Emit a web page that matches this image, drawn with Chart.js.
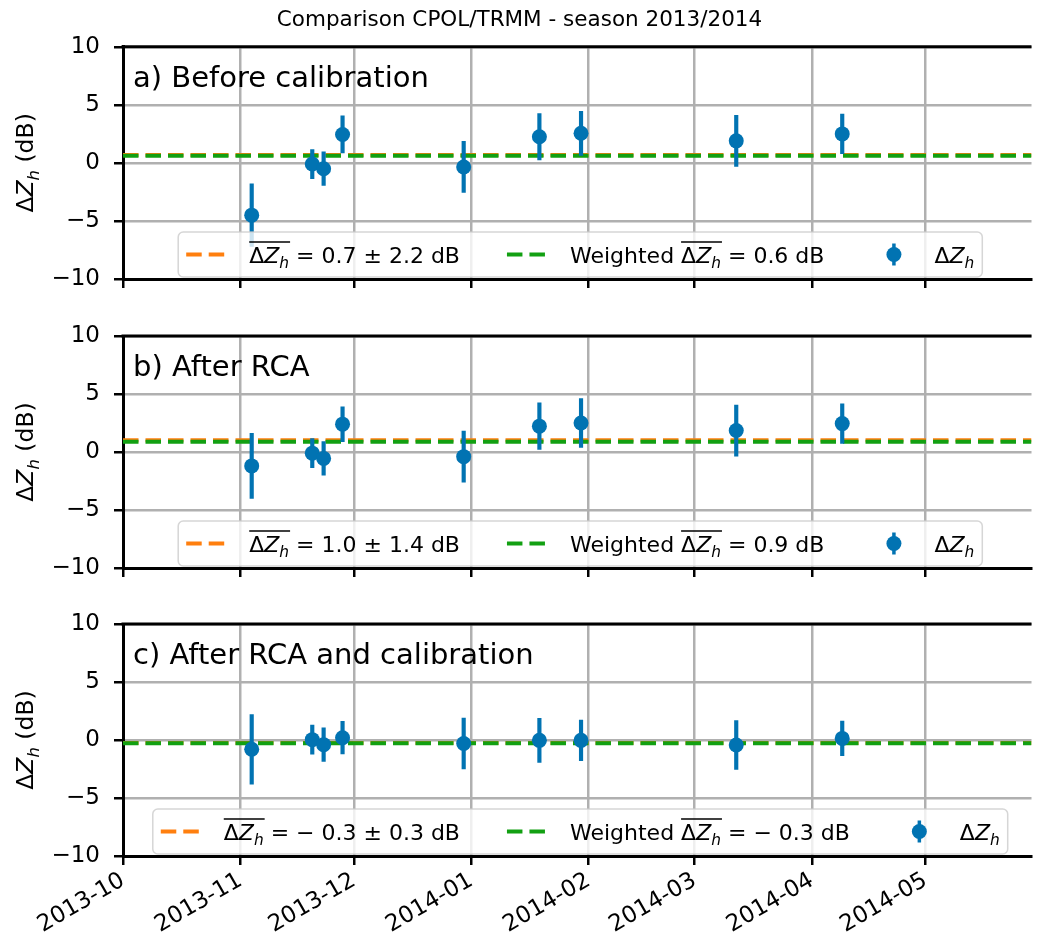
<!DOCTYPE html>
<html>
<head>
<meta charset="utf-8">
<script src="https://cdn.jsdelivr.net/npm/chart.js@4/dist/chart.umd.min.js"></script>
<style>
  body { margin: 0; background: #fff; width: 1039px; height: 943px; position: relative; overflow: hidden; }
  canvas { position: absolute; left: 0; }
</style>
</head>
<body>
<canvas id="panelA" width="1039" height="307" style="top:0px"></canvas>
<canvas id="panelB" width="1039" height="289" style="top:307px"></canvas>
<canvas id="panelC" width="1039" height="347" style="top:596px"></canvas>
<script>
// overpass dates
const dates = ['2013-11-04', '2013-11-20', '2013-11-23', '2013-11-28', '2013-12-30',
               '2014-01-19', '2014-01-30', '2014-03-12', '2014-04-09']

// differences and error bars for each panel (dB)
const dzBefore = [-4.5, -0.1, -0.5, 2.45, -0.35, 2.25, 2.55, 1.9, 2.5]
const errBefore = [2.7, 1.25, 1.45, 1.6, 2.2, 2.0, 1.9, 2.2, 1.7]
const dzRca = [-1.2, -0.1, -0.55, 2.4, -0.4, 2.23, 2.5, 1.85, 2.45]
const errRca = [2.8, 1.25, 1.45, 1.5, 2.2, 2.0, 2.1, 2.2, 1.7]
const dzCal = [-0.8, 0.03, -0.4, 0.2, -0.3, -0.03, -0.03, -0.43, 0.14]
const errCal = [3.0, 1.25, 1.45, 1.4, 2.2, 1.9, 1.75, 2.1, 1.5]

const meanDz = [0.69, 1.02, -0.26]
const stdDz = [2.2, 1.4, 0.3]
const weightedDz = [0.62, 0.88, -0.27]

const panelLabels = ['a) Before calibration', 'b) After RCA', 'c) After RCA and calibration']
const monthTicks = ['2013-10-01', '2013-11-01', '2013-12-01', '2014-01-01',
                    '2014-02-01', '2014-03-01', '2014-04-01', '2014-05-01']
const monthLabels = ['2013-10', '2013-11', '2013-12', '2014-01', '2014-02', '2014-03', '2014-04', '2014-05']
const yTicks = [-10, -5, 0, 5, 10]
const xStart = '2013-10-01'
const xEnd = '2014-05-29'

const BLUE = '#0173b2'
const ORANGE = '#ff7f0e'
const GREEN = '#12a012'
const FONT = '"DejaVu Sans"'

function day(s) {
  const [y, m, d] = s.split('-').map(Number)
  const [y0, m0, d0] = xStart.split('-').map(Number)
  return (Date.UTC(y, m - 1, d) - Date.UTC(y0, m0 - 1, d0)) / 86400000
}
const monthDays = monthTicks.map(day)

function fmt(v) {
  return v < 0 ? '\u2212 ' + Math.abs(v).toFixed(1) : v.toFixed(1)
}

// draw text made of runs (italic / subscript / overline pieces)
function runs(ctx, parts, x, y, size, draw) {
  let cx = x, olStart = null, olEnd = null
  for (const p of parts) {
    const fs = p.sub ? size * 0.7 : size
    ctx.font = (p.it ? 'italic ' : '') + fs + 'px ' + FONT
    const w = ctx.measureText(p.t).width
    if (draw) ctx.fillText(p.t, cx, y + (p.sub ? size * 0.24 : 0))
    if (p.ol) { if (olStart === null) olStart = cx; olEnd = cx + w }
    cx += w
  }
  if (draw && olStart !== null) {
    ctx.save()
    ctx.strokeStyle = '#000'
    ctx.lineWidth = 1.4
    ctx.beginPath()
    ctx.moveTo(olStart, y - size * 0.93)
    ctx.lineTo(olEnd + 1, y - size * 0.93)
    ctx.stroke()
    ctx.restore()
  }
  return cx - x
}

const dzRuns = (ol) => [
  { t: '\u0394', ol: ol },
  { t: 'Z', it: true, ol: ol },
  { t: 'h', it: true, sub: true, ol: ol }
]

const decor = {
  id: 'decor',
  afterDraw(chart, args, o) {
    const { ctx, chartArea: a } = chart
    const i = o.idx
    ctx.save()
    // top spine
    ctx.strokeStyle = '#000'
    ctx.lineWidth = 3
    ctx.beginPath()
    ctx.moveTo(a.left - 1.5, a.top)
    ctx.lineTo(a.right, a.top)
    ctx.stroke()

    // panel label
    ctx.fillStyle = '#000'
    ctx.textBaseline = 'alphabetic'
    ctx.font = '29px ' + FONT
    ctx.fillText(panelLabels[i], a.left + 10, a.top + 40)

    // y axis label
    ctx.save()
    const yl = dzRuns(false).concat([{ t: ' (dB)' }])
    const w = runs(ctx, yl, 0, 0, 23.5, false)
    ctx.translate(25, (a.top + a.bottom) / 2)
    ctx.rotate(-Math.PI / 2)
    runs(ctx, yl, -w / 2, 8, 23.5, true)
    ctx.restore()

    // legend
    const fs = 22, pad = 8, hl = 45, htp = 18, cs = 47, bh = 45
    const entries = [
      { kind: 'line', color: ORANGE,
        parts: dzRuns(true).concat([{ t: ' = ' + fmt(meanDz[i]) + ' \u00b1 ' + stdDz[i].toFixed(1) + ' dB' }]) },
      { kind: 'line', color: GREEN,
        parts: [{ t: 'Weighted ' }].concat(dzRuns(true), [{ t: ' = ' + fmt(weightedDz[i]) + ' dB' }]) },
      { kind: 'err', color: BLUE, parts: dzRuns(false) }
    ]
    const widths = entries.map(e => hl + htp + runs(ctx, e.parts, 0, 0, fs, false))
    const total = pad * 2 + widths.reduce((s, v) => s + v, 0) + cs * (entries.length - 1)
    const bx = (a.left + a.right) / 2 + 3 - total / 2
    const by = a.bottom - 2 - bh
    ctx.beginPath()
    ctx.roundRect(bx, by, total, bh, 5)
    ctx.fillStyle = 'rgba(255,255,255,0.8)'
    ctx.fill()
    ctx.strokeStyle = 'rgba(204,204,204,0.8)'
    ctx.lineWidth = 1.5
    ctx.stroke()
    const cy = by + bh / 2
    let x = bx + pad
    entries.forEach((e, k) => {
      ctx.save()
      if (e.kind === 'line') {
        ctx.strokeStyle = e.color
        ctx.lineWidth = 4
        ctx.setLineDash([15.5, 7])
        ctx.beginPath()
        ctx.moveTo(x, cy)
        ctx.lineTo(x + hl, cy)
        ctx.stroke()
      } else {
        const mx = x + hl / 2
        ctx.strokeStyle = e.color
        ctx.lineWidth = 3.5
        ctx.beginPath()
        ctx.moveTo(mx, cy - 11)
        ctx.lineTo(mx, cy + 11)
        ctx.stroke()
        ctx.fillStyle = e.color
        ctx.beginPath()
        ctx.arc(mx, cy, 7.5, 0, Math.PI * 2)
        ctx.fill()
      }
      ctx.restore()
      ctx.fillStyle = '#000'
      runs(ctx, e.parts, x + hl + htp, cy + 8, fs, true)
      x += widths[k] + cs
    })
    ctx.restore()
  }
}

Chart.defaults.font.family = 'DejaVu Sans'
Chart.defaults.color = '#000'

function makePanel(id, i, dz, err, opts) {
  const xs = dates.map(day)
  new Chart(document.getElementById(id), {
    type: 'scatter',
    data: {
      datasets: [
        {
          type: 'line',
          data: [{ x: day(xStart), y: meanDz[i] }, { x: day(xEnd), y: meanDz[i] }],
          borderColor: ORANGE, borderWidth: 4, borderDash: [15.5, 7],
          pointRadius: 0, order: 4
        },
        {
          type: 'line',
          data: [{ x: day(xStart), y: weightedDz[i] }, { x: day(xEnd), y: weightedDz[i] }],
          borderColor: GREEN, borderWidth: 4, borderDash: [15.5, 7],
          pointRadius: 0, order: 3
        },
        {
          type: 'bar',
          data: xs.map((x, k) => ({ x: x, y: [dz[k] - err[k], dz[k] + err[k]] })),
          backgroundColor: BLUE, borderWidth: 0, barThickness: 3.5, order: 2
        },
        {
          type: 'scatter',
          data: xs.map((x, k) => ({ x: x, y: dz[k] })),
          backgroundColor: BLUE, borderWidth: 0, pointRadius: 7.5, order: 1
        }
      ]
    },
    options: {
      responsive: false,
      animation: false,
      events: [],
      layout: { padding: { top: opts.padTop, left: 0, right: 0, bottom: 0 } },
      plugins: {
        legend: { display: false },
        tooltip: { enabled: false },
        title: opts.title ? {
          display: true, text: opts.title, color: '#000',
          font: { size: 21.5, weight: 'normal' }, padding: { top: 8, bottom: 13 }
        } : { display: false },
        decor: { idx: i }
      },
      scales: {
        x: {
          type: 'linear',
          min: day(xStart), max: day(xEnd),
          offset: false,
          afterBuildTicks: s => { s.ticks = monthDays.map(v => ({ value: v })) },
          afterFit: s => { s.height = opts.xHeight },
          ticks: {
            display: opts.showX,
            font: { size: 23 },
            color: '#000',
            minRotation: 30, maxRotation: 30,
            padding: 2,
            callback: v => monthLabels[monthDays.indexOf(v)]
          },
          grid: { offset: false, color: '#b0b0b0', lineWidth: 2.5, tickColor: '#000', tickWidth: 2.5, tickLength: 9 },
          border: { color: '#000', width: 3 }
        },
        y: {
          min: -10, max: 10,
          afterBuildTicks: s => { s.ticks = yTicks.map(v => ({ value: v })) },
          afterFit: s => { s.width = 123 },
          ticks: {
            font: { size: 23 },
            color: '#000',
            padding: 14,
            callback: v => v < 0 ? '\u2212' + Math.abs(v) : String(v)
          },
          grid: { color: '#b0b0b0', lineWidth: 2.5, tickColor: '#000', tickWidth: 2.5, tickLength: 9 },
          border: { color: '#000', width: 3 }
        }
      }
    },
    plugins: [decor]
  })
}

makePanel('panelA', 0, dzBefore, errBefore,
  { padTop: 0, xHeight: 28, showX: false, title: 'Comparison CPOL/TRMM - season 2013/2014' })
makePanel('panelB', 1, dzRca, errRca, { padTop: 29, xHeight: 28, showX: false })
makePanel('panelC', 2, dzCal, errCal, { padTop: 28, xHeight: 87, showX: true })
</script>
</body>
</html>
